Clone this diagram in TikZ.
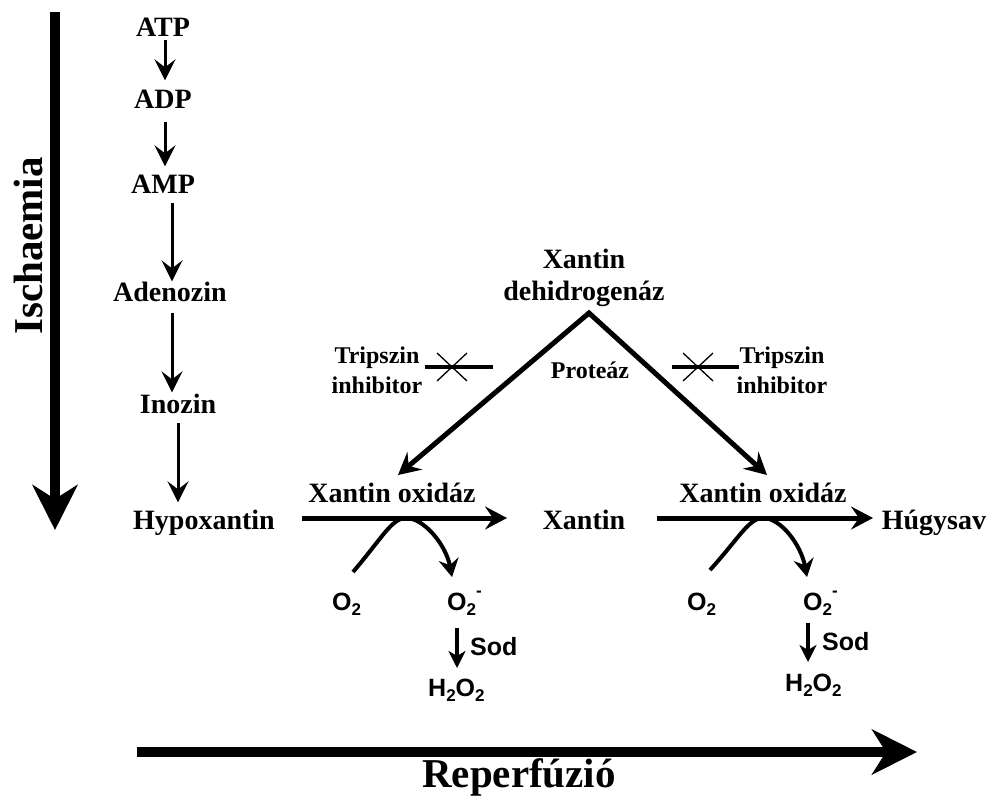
\documentclass[tikz,border=0pt]{standalone}
\usepackage{fontspec}
\setmainfont{Liberation Serif}
\newfontfamily\sansf{Liberation Sans}
\usetikzlibrary{arrows.meta,calc}
\newcommand\mysub[1]{\raisebox{-0.22em}{\fontsize{17}{17}\selectfont #1}}
\newcommand\mysup[1]{\raisebox{0.55em}{\fontsize{17}{17}\selectfont #1}}
\begin{document}
\begin{tikzpicture}[x=1pt,y=-1pt,
  lbl/.style={font=\fontsize{28}{30}\selectfont\bfseries, inner sep=0pt, anchor=base},
  smalllbl/.style={font=\fontsize{24}{26}\selectfont\bfseries, inner sep=0pt, anchor=base},
  biglbl/.style={font=\fontsize{41}{44}\selectfont\bfseries, inner sep=0pt, anchor=base},
  sanslbl/.style={font=\sansf\fontsize{25}{28}\selectfont\bfseries, inner sep=0pt, anchor=base west},
  bigarrow/.style={line width=10pt, -{Stealth[length=45pt,width=45pt,inset=14pt]}},
  chainarrow/.style={line width=3pt, -{Stealth[length=21pt,width=21pt,inset=8pt]}},
  rxarrow/.style={line width=5pt, -{Stealth[length=22pt,width=23pt,inset=8pt]}},
  curvearrow/.style={line width=4pt, -{Stealth[length=18pt,width=20pt,inset=6pt]}},
  sodarrow/.style={line width=3.5pt, -{Stealth[length=17pt,width=17pt,inset=5pt]}},
  inhibline/.style={line width=4pt},
  crossline/.style={line width=1.3pt},
]
\useasboundingbox (0,0) rectangle (993,801);
\fill[white] (0,0) rectangle (993,801);

% axes
\coordinate (isA) at (55,12);
\coordinate (isB) at (55,530);
\draw[bigarrow] (isA) -- (isB);
\node[biglbl, rotate=90] (isch) at (42,246) {Ischaemia};
\coordinate (reA) at (137,752);
\coordinate (reB) at (917,752);
\draw[bigarrow] (reA) -- (reB);
\node[biglbl] (reperf) at (519,787) {Reperfúzió};

% chain
\node[lbl] (ATP) at (163,36) {ATP};
\node[lbl] (ADP) at (163,108) {ADP};
\node[lbl] (AMP) at (163,193) {AMP};
\node[lbl] (Aden) at (170,301) {Adenozin};
\node[lbl] (Ino) at (178,413) {Inozin};
\node[lbl] (Hypo) at (204,529) {Hypoxantin};

\draw[chainarrow, shorten <=4pt, shorten >=9pt] ([xshift=2pt]ATP.south) -- ([xshift=2pt]ADP.north);
\draw[chainarrow, shorten <=14pt, shorten >=8pt] ([xshift=2pt]ADP.south) -- ([xshift=2pt]AMP.north);
\draw[chainarrow, shorten <=10pt, shorten >=0pt] ([xshift=9pt]AMP.south) -- ([xshift=2pt]Aden.north);
\draw[chainarrow, shorten <=12pt, shorten >=1pt] ([xshift=2pt]Aden.south) -- ([xshift=-6pt]Ino.north);
\draw[chainarrow, shorten <=10pt, shorten >=7pt] (Ino.south) -- (Ino.south |- Hypo.north);

% dehydrogenase and protease
\node[lbl] (XDa) at (584,268) {Xantin};
\node[lbl] (XDb) at (584,300) {dehidrogenáz};
\node[smalllbl] (prot) at (590,378) {Proteáz};
\coordinate (apex) at (589,313);
\coordinate (lt) at (398,475);
\coordinate (rt) at (767,475);
\draw[line width=5pt, miter limit=10, {Stealth[length=22pt,width=23pt,inset=8pt]}-{Stealth[length=22pt,width=23pt,inset=8pt]}] (lt) -- (apex) -- (rt);

% trypsin inhibitors
\node[smalllbl] (tLa) at (377,363) {Tripszin};
\node[smalllbl] (tLb) at (377,393) {inhibitor};
\node[smalllbl] (tRa) at (782,363) {Tripszin};
\node[smalllbl] (tRb) at (782,393) {inhibitor};
\coordinate (iLa) at (425,367);
\coordinate (iLb) at (493,367);
\coordinate (xL) at (452,367);
\coordinate (iRa) at (672,367);
\coordinate (iRb) at (739,367);
\coordinate (xR) at (698,367);
\draw[inhibline] (iLa) -- (iLb);
\draw[inhibline] (iRa) -- (iRb);
\draw[crossline] ($(xL)+(-15,-14)$) -- ($(xL)+(15,14)$);
\draw[crossline] ($(xL)+(-15,14)$) -- ($(xL)+(15,-14)$);
\draw[crossline] ($(xR)+(-15,-14)$) -- ($(xR)+(15,14)$);
\draw[crossline] ($(xR)+(-15,14)$) -- ($(xR)+(15,-14)$);

% reactions
\node[lbl] (XOL) at (392,502) {Xantin oxidáz};
\node[lbl] (XOR) at (763,502) {Xantin oxidáz};
\node[lbl] (Xan) at (584,529) {Xantin};
\node[lbl] (Hug) at (934,529) {Húgysav};
\coordinate (r1a) at (302,518);
\coordinate (r1b) at (507,518);
\coordinate (r2a) at (657,518);
\coordinate (r2b) at (873,518);
\draw[rxarrow] (r1a) -- (r1b);
\draw[rxarrow] (r2a) -- (r2b);

\coordinate (c1a) at (353,572);
\coordinate (c1p) at (406,518);
\coordinate (c1b) at (452,577);
\draw[curvearrow] (c1a) .. controls (382,538) and (392,518) .. (c1p) .. controls (424,518) and (446,545) .. (c1b);
\coordinate (c2a) at (710,570);
\coordinate (c2p) at (763,518);
\coordinate (c2b) at (807,577);
\draw[curvearrow] (c2a) .. controls (739,538) and (749,518) .. (c2p) .. controls (781,518) and (801,545) .. (c2b);

\node[sanslbl] (o2L) at (332,610) {O\mysub{2}};
\node[sanslbl] (o2mL) at (447,610) {O\mysub{2}\mysup{-}};
\node[sanslbl] (sodL) at (470,655) {Sod};
\node[sanslbl] (h2o2L) at (428,696) {H\mysub{2}O\mysub{2}};
\node[sanslbl] (o2R) at (687,610) {O\mysub{2}};
\node[sanslbl] (o2mR) at (803,610) {O\mysub{2}\mysup{-}};
\node[sanslbl] (sodR) at (822,650) {Sod};
\node[sanslbl] (h2o2R) at (785,691) {H\mysub{2}O\mysub{2}};
\coordinate (s1a) at (457,628);
\coordinate (s1b) at (457,668);
\coordinate (s2a) at (808,623);
\coordinate (s2b) at (808,662);
\draw[sodarrow] (s1a) -- (s1b);
\draw[sodarrow] (s2a) -- (s2b);
\end{tikzpicture}
\end{document}
